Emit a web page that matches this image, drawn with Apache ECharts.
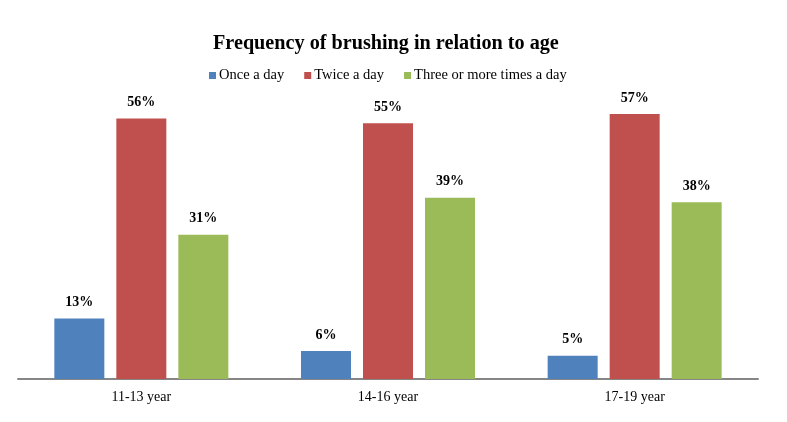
<!DOCTYPE html>
<html><head><meta charset="utf-8">
<script src="https://cdn.jsdelivr.net/npm/echarts@6/dist/echarts.min.js"></script>
<style>html,body{margin:0;padding:0;background:#fff}#c{width:787px;height:422px}</style>
</head><body><div id="c"></div>
<script>
var categories = ['11-13 year', '14-16 year', '17-19 year'];
var onceADay = [13, 6, 5];
var twiceADay = [56, 55, 57];
var threeOrMore = [31, 39, 38];
var seriesNames = ['Once a day', 'Twice a day', 'Three or more times a day'];

var serif = '"Liberation Serif", "Times New Roman", serif';
var colors = ['#4F81BD', '#C0504D', '#9BBB59'];
function mk(name, data, i) {
  return {
    name: name, type: 'bar', data: data, barWidth: 50, barGap: '24%',
    itemStyle: { color: colors[i] },
    label: { show: true, position: 'top', distance: 9, formatter: '{c}%',
      fontFamily: serif, fontWeight: 'bold', fontSize: 14, color: '#000' }
  };
}
var chart = echarts.init(document.getElementById('c'));
chart.setOption({
  animation: false,
  title: { text: 'Frequency of brushing in relation to age', left: 208, top: 29,
    textStyle: { fontFamily: serif, fontWeight: 'bold', fontSize: 20.2, color: '#000' } },
  legend: { top: 63, left: 204, itemWidth: 7, itemHeight: 7, itemGap: 20,
    icon: 'rect', textStyle: { fontFamily: serif, fontSize: 14.5, color: '#000', padding: [0, 0, 0, -2] },
    data: seriesNames },
  grid: { left: 18, right: 29, top: 100, bottom: 43 },
  xAxis: { type: 'category', data: categories,
    axisLine: { lineStyle: { color: '#868686', width: 2 } },
    axisTick: { show: false },
    axisLabel: { fontFamily: serif, fontSize: 14, color: '#000', margin: 11 } },
  yAxis: { type: 'value', min: 0, max: 60, show: false, splitLine: { show: false } },
  series: [mk(seriesNames[0], onceADay, 0), mk(seriesNames[1], twiceADay, 1), mk(seriesNames[2], threeOrMore, 2)]
});
</script></body></html>
